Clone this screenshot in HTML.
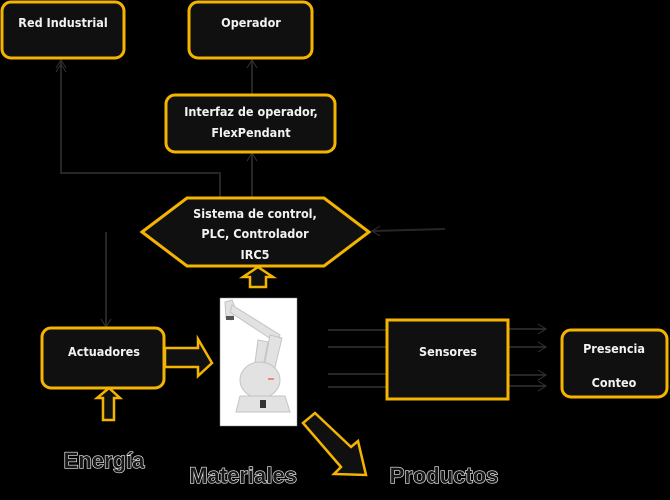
<!DOCTYPE html>
<html><head><meta charset="utf-8"><style>
html,body{margin:0;padding:0;background:#000;width:670px;height:500px;overflow:hidden}
svg{display:block}
.t{font-family:"DejaVu Sans Condensed","Liberation Sans",sans-serif;font-weight:bold;font-size:12.5px;fill:#f2f2f2;text-anchor:middle}
.big{font-family:"Liberation Sans",sans-serif;font-size:22px;fill:#181818;stroke:#eee;stroke-width:1.3px;text-anchor:middle;font-weight:bold;paint-order:stroke}
.b{fill:#101010;stroke:#f5b400;stroke-width:3}
.l{stroke:#262626;stroke-width:2;fill:none}
.ah{stroke:#333;stroke-width:1;fill:none}
</style></head><body>
<svg width="670" height="500" viewBox="0 0 670 500" xmlns="http://www.w3.org/2000/svg">
<polyline class="l" points="220,198 220,173 61,173 61,60"/>
<polyline class="ah" points="56,68 61,60 66,68"/>
<polyline class="ah" points="56,72 61,64 66,72"/>
<line class="l" x1="252" y1="198" x2="252" y2="153"/>
<polyline class="ah" points="247,161 252,153 257,161"/>
<line class="l" x1="252" y1="95" x2="252" y2="60"/>
<polyline class="ah" points="247,68 252,60 257,68"/>
<line class="l" x1="106" y1="232" x2="106" y2="327"/>
<polyline class="ah" points="101,319 106,327 111,319"/>
<line class="l" x1="445" y1="229" x2="372" y2="231"/>
<polyline class="ah" points="380,226 372,231 380,236"/>
<line class="l" x1="328" y1="330" x2="386" y2="330"/>
<line class="l" x1="328" y1="347" x2="386" y2="347"/>
<line class="l" x1="328" y1="374" x2="386" y2="374"/>
<line class="l" x1="328" y1="387" x2="386" y2="387"/>
<g>
<line class="l" x1="509" y1="329" x2="546" y2="329"/><polyline class="ah" points="538,324 546,329 538,334"/>
<line class="l" x1="509" y1="347" x2="546" y2="347"/><polyline class="ah" points="538,342 546,347 538,352"/>
<line class="l" x1="509" y1="375" x2="546" y2="375"/><polyline class="ah" points="538,370 546,375 538,380"/>
<line class="l" x1="509" y1="386" x2="546" y2="386"/><polyline class="ah" points="538,381 546,386 538,391"/>
</g>
<rect class="b" x="2" y="2" width="122" height="56" rx="9"/>
<text class="t" x="63" y="27">Red Industrial</text>
<rect class="b" x="189" y="2" width="123" height="56" rx="9"/>
<text class="t" x="251" y="27">Operador</text>
<rect class="b" x="166" y="95" width="169" height="57" rx="9"/>
<text class="t" x="251" y="116">Interfaz de operador,</text>
<text class="t" x="251" y="137">FlexPendant</text>
<polygon class="b" points="142,232 187,198 324,198 369,232 324,266 187,266"/>
<text class="t" x="255" y="218">Sistema de control,</text>
<text class="t" x="255" y="238">PLC, Controlador</text>
<text class="t" x="255" y="259">IRC5</text>
<polygon class="b" style="stroke-width:2.5" points="250,287 250,277 243,277 258,267 273,277 266,277 266,287"/>
<rect class="b" x="42" y="328" width="122" height="60" rx="9"/>
<text class="t" x="104" y="356">Actuadores</text>
<polygon class="b" style="stroke-width:2.5" points="165,348 198,348 198,339 212,363 198,376 198,367 165,367"/>
<polygon class="b" style="stroke-width:2.5" points="103,420 103,398 97,398 109,388 120,398 114,398 114,420"/>
<rect class="b" x="387" y="320" width="121" height="79"/>
<text class="t" x="448" y="356">Sensores</text>
<rect class="b" x="562" y="330" width="105" height="67" rx="9"/>
<text class="t" x="614" y="353">Presencia</text>
<text class="t" x="614" y="387">Conteo</text>
<rect x="220" y="298" width="77" height="128" fill="#fff" stroke="#888" stroke-width="0.5"/>
<g fill="#e2e2e2" stroke="#c4c4c4" stroke-width="1">
<polygon points="225,302 232,300 236,310 231,320 226,318"/>
<polygon points="232,305 280,335 277,343 230,312"/>
<polygon points="270,335 282,338 272,380 262,378"/>
<polygon points="258,340 268,342 262,372 254,370"/>
<ellipse cx="260" cy="380" rx="20" ry="18"/>
<polygon points="240,396 285,396 290,412 236,412"/>
</g>
<rect x="260" y="400" width="6" height="8" fill="#333"/>
<rect x="226" y="316" width="8" height="4" fill="#555"/>
<rect x="268" y="378" width="6" height="2" fill="#e87"/>
<polygon class="b" style="stroke-width:2.5" points="303,423 315,413 351,447 358,441 366,475 334,474 341,467"/>
<text class="big" x="104" y="468">Energía</text>
<text class="big" x="243" y="483">Materiales</text>
<text class="big" x="444" y="483">Productos</text>
</svg>
</body></html>
